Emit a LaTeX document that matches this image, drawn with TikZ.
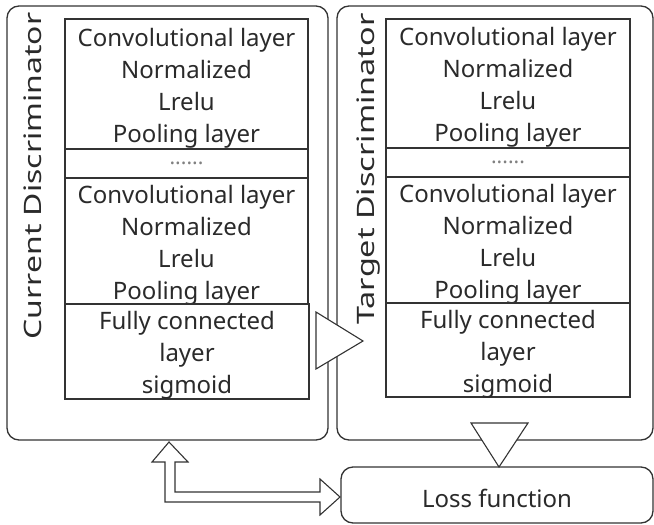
\documentclass[tikz,border=0pt]{standalone}
\usepackage{fontspec}
\usepackage{graphicx}
\setmainfont{Noto Sans}
\definecolor{ln}{HTML}{333333}
\definecolor{tx}{HTML}{2A2A2A}
\begin{document}
\begin{tikzpicture}[x=1pt,y=-1pt,
  outerbox/.style={draw=ln,line width=1.3pt,rounded corners=12pt,inner sep=0pt},
  layerbox/.style={draw=ln,line width=1.1pt,inner sep=0pt},
  layertext/.style={inner sep=0pt,align=center,text=tx,yshift=-4pt,
     font=\fontsize{24}{32}\selectfont},
  sidelabel/.style={rotate=90,text=tx,font=\fontsize{24}{28}\selectfont,inner sep=0pt},
  flow/.style={draw=ln,line width=1.1pt,fill=white,line join=miter},
  dots/.style={text=gray,font=\fontsize{21}{32}\selectfont,inner sep=0pt}]
\useasboundingbox (0,0) rectangle (654,525);
% outer boxes
\path[outerbox] (7,6) rectangle (328,440);
\node[minimum width=321pt,minimum height=434pt,inner sep=0pt] (cur) at (167.5,223) {};
\path[outerbox] (337,6) rectangle (653,440);
\node[minimum width=316pt,minimum height=434pt,inner sep=0pt] (tgt) at (495,223) {};
% side labels
\node[sidelabel] (curlab) at (33,176) {\scalebox{1.33}[1]{Current Discriminator}};
\node[sidelabel] (tgtlab) at (369,169) {\scalebox{1.35}[1]{Target Discriminator}};
% left stack
\node[layerbox,minimum width=243pt,minimum height=130pt] (c1) at (186.5,84) {};
\node[layertext] at (c1.center) {Convolutional layer\\Normalized\\Lrelu\\Pooling layer};
\node[layerbox,minimum width=243pt,minimum height=29pt] (cd) at (186.5,163.5) {};
\node[dots] at (cd.center) {......};
\node[layerbox,minimum width=243pt,minimum height=126pt] (c2) at (186.5,241) {};
\node[layertext] at (c2.center) {Convolutional layer\\Normalized\\Lrelu\\Pooling layer};
\node[layerbox,minimum width=244pt,minimum height=95pt] (c3) at (187,351.5) {};
\node[layertext] at (c3.center) {Fully connected\\layer\\sigmoid};
% right stack
\node[layerbox,minimum width=244pt,minimum height=129pt] (t1) at (508,83.5) {};
\node[layertext] at (t1.center) {Convolutional layer\\Normalized\\Lrelu\\Pooling layer};
\node[layerbox,minimum width=244pt,minimum height=29pt] (td) at (508,162.5) {};
\node[dots] at (td.center) {......};
\node[layerbox,minimum width=244pt,minimum height=126pt] (t2) at (508,240) {};
\node[layertext] at (t2.center) {Convolutional layer\\Normalized\\Lrelu\\Pooling layer};
\node[layerbox,minimum width=244pt,minimum height=94pt] (t3) at (508,350) {};
\node[layertext] at (t3.center) {Fully connected\\layer\\sigmoid};
% loss box
\node[outerbox,minimum width=312pt,minimum height=56pt] (loss) at (497,495) {};
\node[inner sep=0pt,text=tx,font=\fontsize{24}{28}\selectfont,yshift=-3pt] at (loss.center) {Loss function};
% right triangle between discriminators
\path[flow] (316,312) -- (363,341) -- (316,369) -- cycle;
% down triangle to loss
\path[flow] (471,423) -- (528,423) -- (499,467) -- cycle;
% hollow double arrow
\path[flow] (169,442) -- (188,462) -- (175,462) -- (175,492) -- (320,492)
  -- (320,479) -- (340,497) -- (320,515) -- (320,502) -- (165,502)
  -- (165,462) -- (152,462) -- cycle;
\end{tikzpicture}
\end{document}
